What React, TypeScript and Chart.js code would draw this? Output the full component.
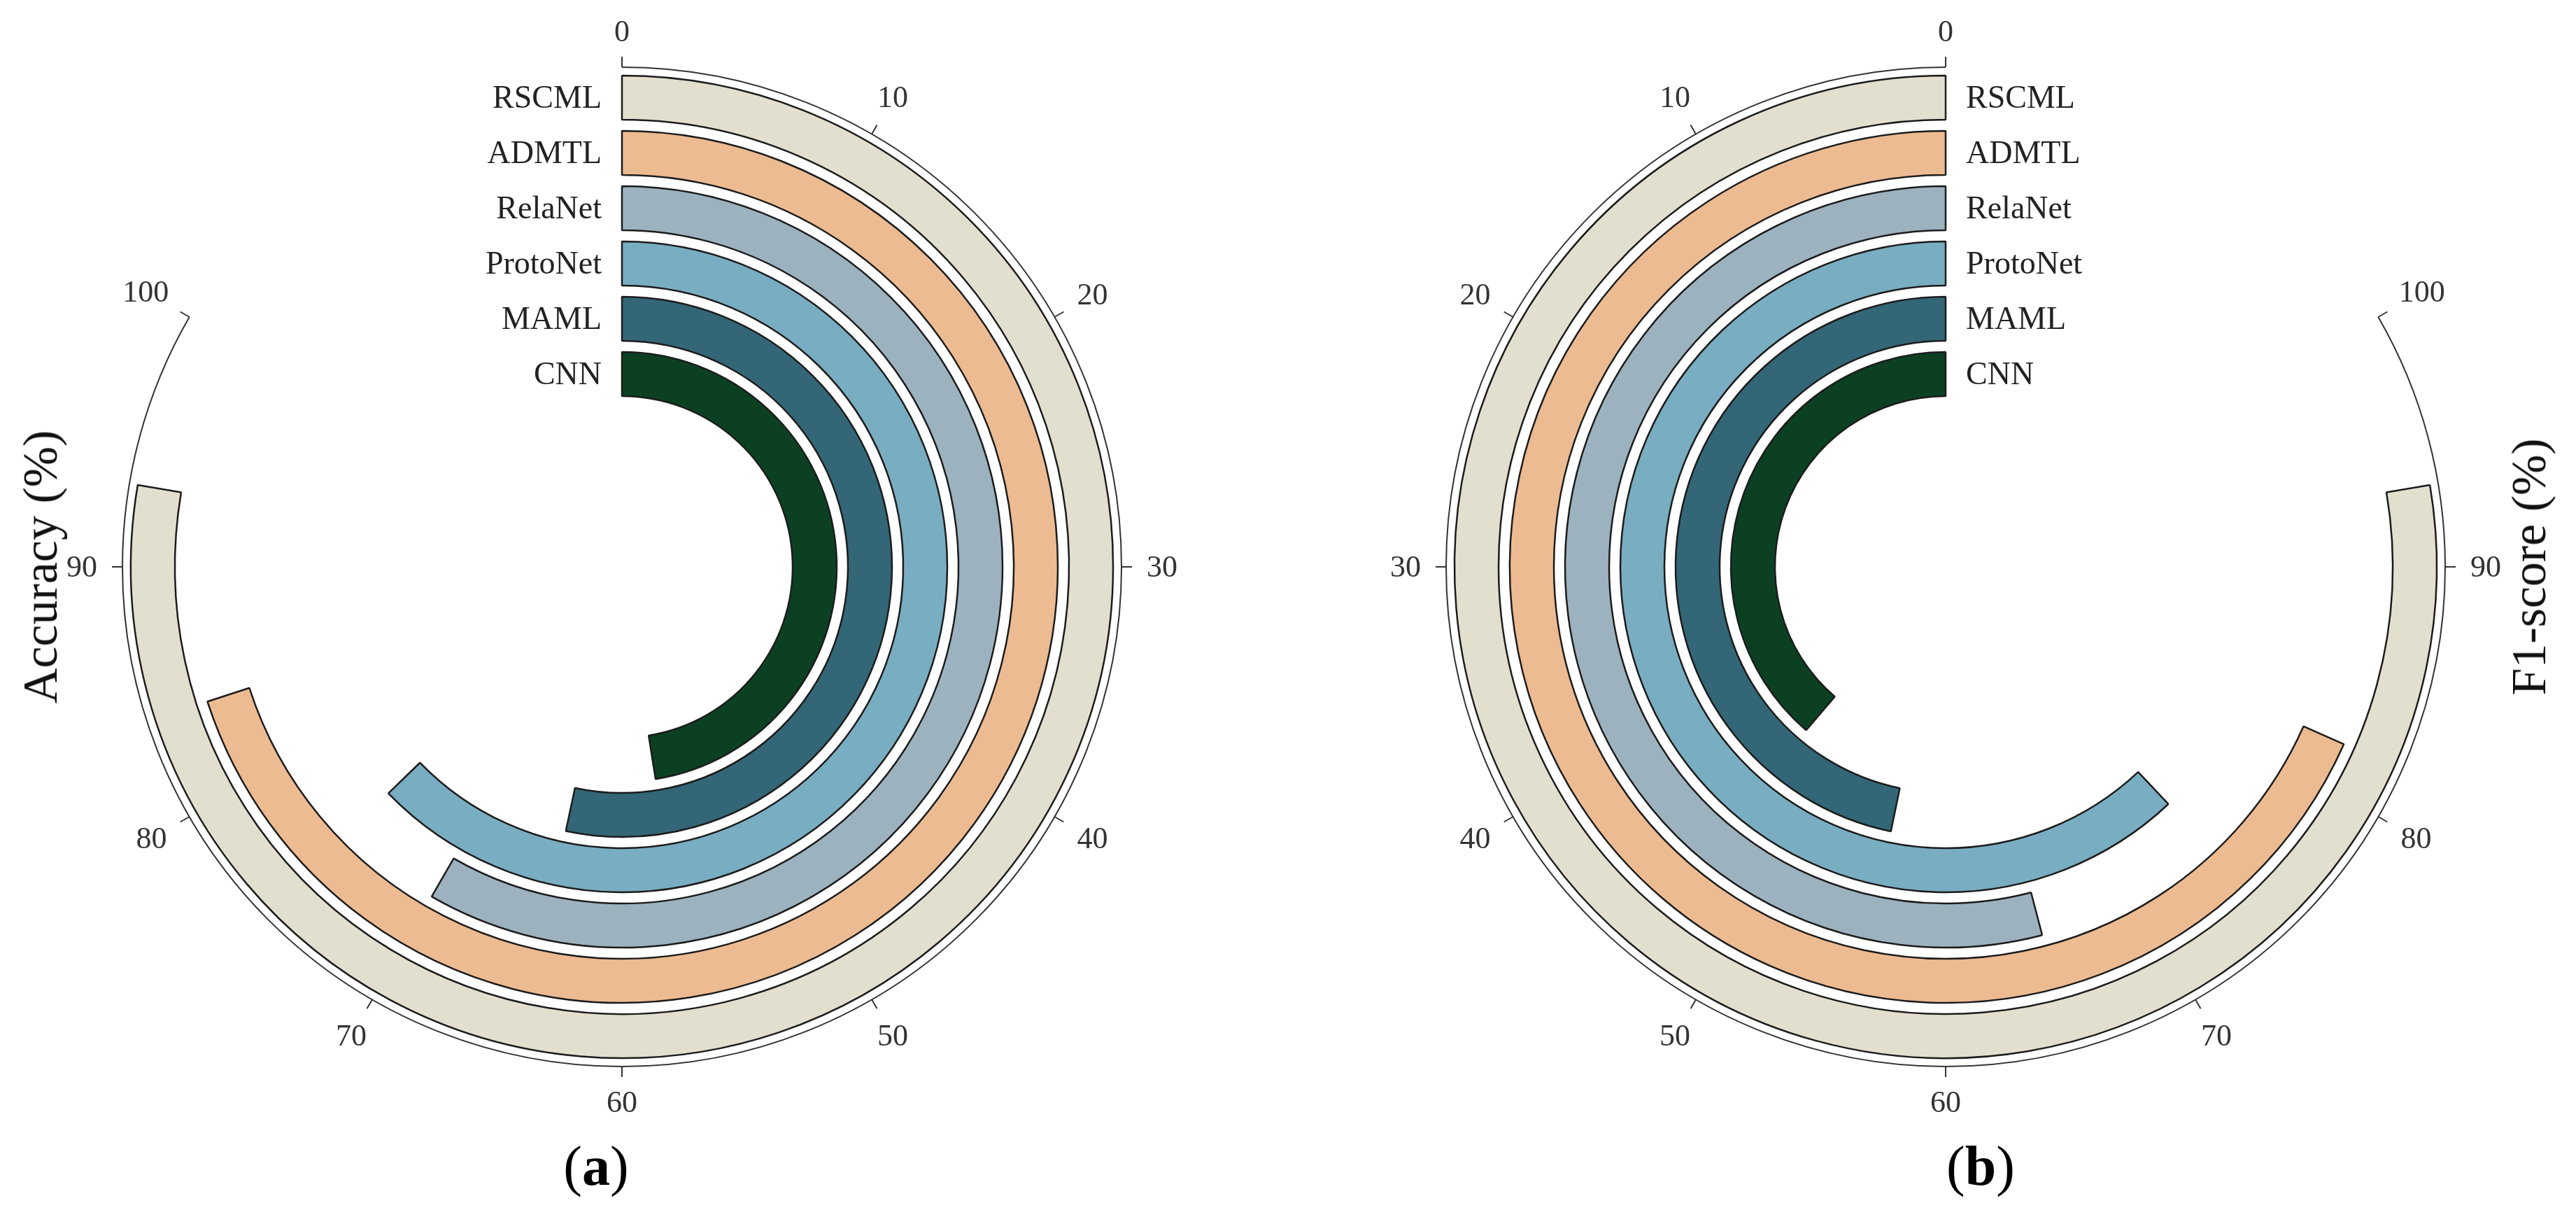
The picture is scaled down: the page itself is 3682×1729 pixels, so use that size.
import { useEffect, useRef } from "react";
import { Chart, registerables } from "chart.js";

Chart.register(...registerables);

// values (outermost ring first)
const methods = ["RSCML", "ADMTL", "RelaNet", "ProtoNet", "MAML", "CNN"];
const accuracy = [93.2, 84.0, 70.0, 75.3, 64.0, 57.0];
const f1Score = [93.2, 82.0, 64.9, 74.4, 56.1, 46.5];
const barColors = ["#e3dfcf", "#edbb92", "#9cb2be", "#79adc1", "#336676", "#0b4122"];
const tickValues = [0, 10, 20, 30, 40, 50, 60, 70, 80, 90, 100];
const axisMax = 100;

const SWEEP = 300; // degrees used by the value axis
const OUTER_R = 702;
const INNER_R = 244;
const BAR_W = 63;
const GAP_W = 16;
const FONT = '"Liberation Serif", "Times New Roman", serif';

function radialAxisPlugin(direction: number) {
  return {
    id: "radialAxis",
    afterDatasetsDraw(chart: any) {
      const ctx: CanvasRenderingContext2D = chart.ctx;
      const first = chart.getDatasetMeta(0).data[0];
      const cx = first.x;
      const cy = first.y;
      const rAxis = first.outerRadius + 12;
      const sweep = (chart.options.circumference * Math.PI) / 180;
      const angleOf = (v: number) => -Math.PI / 2 + direction * (v / axisMax) * sweep;

      ctx.save();
      ctx.strokeStyle = "#333";
      ctx.lineWidth = 2;
      ctx.beginPath();
      ctx.arc(cx, cy, rAxis, angleOf(0), angleOf(axisMax), direction < 0);
      ctx.stroke();

      ctx.font = `44px ${FONT}`;
      ctx.fillStyle = "#333";
      ctx.textAlign = "center";
      ctx.textBaseline = "middle";
      tickValues.forEach((v) => {
        const a = angleOf(v);
        const c = Math.cos(a);
        const s = Math.sin(a);
        ctx.beginPath();
        ctx.moveTo(cx + rAxis * c, cy + rAxis * s);
        ctx.lineTo(cx + (rAxis + 15) * c, cy + (rAxis + 15) * s);
        ctx.stroke();
        const label = String(v);
        const w = ctx.measureText(label).width;
        const r = rAxis + 36 + Math.abs(c) * (w / 2) + Math.abs(s) * 15;
        ctx.fillText(label, cx + r * c, cy + r * s + 2);
      });

      // method names beside the zero line
      ctx.font = `46px ${FONT}`;
      ctx.fillStyle = "#222";
      ctx.textAlign = direction > 0 ? "right" : "left";
      chart.data.datasets.forEach((ds: any, i: number) => {
        if (!ds.label) return;
        const arc = chart.getDatasetMeta(i).data[0];
        const mid = (arc.outerRadius + arc.innerRadius) / 2;
        ctx.fillText(ds.label, cx - direction * 29, cy - mid + 2);
      });
      ctx.restore();
    },
  };
}

function RadialBarChart({ values, direction, centerX }: { values: number[]; direction: number; centerX: number }) {
  const canvasRef = useRef<HTMLCanvasElement>(null);
  const chartInstance = useRef<Chart | null>(null);

  useEffect(() => {
    if (!canvasRef.current) return;
    if (chartInstance.current) chartInstance.current.destroy();
    const ctx = canvasRef.current.getContext("2d");
    if (!ctx) return;

    const datasets: any[] = [];
    methods.forEach((name, i) => {
      if (i > 0) {
        datasets.push({
          label: "",
          data: [axisMax],
          backgroundColor: "rgba(0,0,0,0)",
          borderWidth: 0,
          weight: GAP_W,
        });
      }
      const v = values[i];
      const clear = "rgba(0,0,0,0)";
      datasets.push({
        label: name,
        data: direction > 0 ? [v, axisMax - v] : [axisMax - v, v],
        backgroundColor: direction > 0 ? [barColors[i], clear] : [clear, barColors[i]],
        borderColor: "#1c1c1c",
        borderWidth: direction > 0 ? [2.5, 0] : [0, 2.5],
        weight: BAR_W,
        hoverOffset: 0,
      });
    });

    chartInstance.current = new Chart(ctx, {
      type: "doughnut",
      data: { labels: ["value", "rest"], datasets },
      options: {
        responsive: false,
        maintainAspectRatio: false,
        animation: false,
        events: [],
        rotation: direction > 0 ? 0 : 360 - SWEEP,
        circumference: SWEEP,
        radius: OUTER_R,
        cutout: `${(INNER_R / OUTER_R) * 100}%`,
        layout: { padding: 0 },
        plugins: {
          legend: { display: false },
          tooltip: { enabled: false },
        },
      } as any,
      plugins: [radialAxisPlugin(direction)],
    });

    return () => {
      if (chartInstance.current) {
        chartInstance.current.destroy();
        chartInstance.current = null;
      }
    };
  }, [values, direction]);

  return (
    <canvas
      ref={canvasRef}
      width={1778}
      height={1620}
      style={{ position: "absolute", left: centerX - 889, top: 0, width: 1778, height: 1620 }}
    />
  );
}

function AxisTitle({ text, x, y }: { text: string; x: number; y: number }) {
  return (
    <div
      style={{
        position: "absolute",
        left: x,
        top: y,
        transform: "translate(-50%, -50%) rotate(-90deg)",
        fontSize: 70,
        lineHeight: 1,
        whiteSpace: "nowrap",
        color: "#111",
      }}
    >
      {text}
    </div>
  );
}

function PanelLabel({ letter, x, y }: { letter: string; x: number; y: number }) {
  return (
    <div
      style={{
        position: "absolute",
        left: x,
        top: y,
        transform: "translate(-50%, -50%)",
        fontSize: 80,
        lineHeight: 1,
        color: "#000",
      }}
    >
      (<b>{letter}</b>)
    </div>
  );
}

export default function App() {
  return (
    <div
      style={{
        position: "absolute",
        left: 0,
        top: 0,
        width: 3682,
        height: 1729,
        background: "#fff",
        overflow: "hidden",
        fontFamily: FONT,
      }}
    >
      <RadialBarChart values={accuracy} direction={1} centerX={889} />
      <RadialBarChart values={f1Score} direction={-1} centerX={2781} />
      <AxisTitle text="Accuracy (%)" x={58} y={810} />
      <AxisTitle text="F1-score (%)" x={3615} y={810} />
      <PanelLabel letter="a" x={852} y={1666} />
      <PanelLabel letter="b" x={2831} y={1666} />
    </div>
  );
}
